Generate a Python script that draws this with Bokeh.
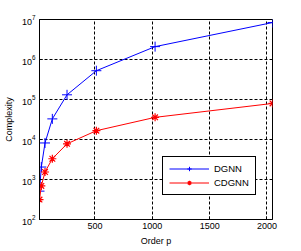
from bokeh.plotting import figure
from bokeh.models import FixedTicker, Legend, LegendItem, Range1d
from bokeh.embed import file_html
from bokeh.resources import INLINE

order_p = [16, 32, 64, 128, 256, 512, 1024, 2048]
dgnn = [512, 2048, 8192, 32768, 131072, 524288, 2097152, 8388608]
cdgnn = [315, 690, 1540, 3300, 7800, 16600, 35800, 79700]
x_ticks = [500, 1000, 1500, 2000]
y_ticks = [1e2, 1e3, 1e4, 1e5, 1e6, 1e7]
series_names = ["DGNN", "CDGNN"]
x_label = "Order p"
y_label = "Complexity"

FONT = "Liberation Sans"

p = figure(frame_width=233, frame_height=200,
           x_range=Range1d(16, 2048), y_range=Range1d(1e2, 1e7),
           y_axis_type="log", output_backend="svg", toolbar_location=None,
           min_border_left=0, min_border_right=26, min_border_top=19, min_border_bottom=0)

p.background_fill_color = "white"
p.border_fill_color = "white"
p.outline_line_color = "black"
p.outline_line_width = 1
p.outline_line_alpha = 1

p.xaxis.ticker = FixedTicker(ticks=x_ticks)
p.yaxis.ticker = FixedTicker(ticks=y_ticks)
for ax in (p.xaxis, p.yaxis):
    ax.axis_line_color = "black"
    ax.major_tick_out = 0
    ax.major_tick_in = 3
    ax.major_tick_line_color = "black"
    ax.minor_tick_line_color = None
    ax.major_label_text_font = FONT
    ax.major_label_text_font_size = "9px"
    ax.major_label_text_color = "black"
    ax.axis_label_text_font = FONT
    ax.axis_label_text_font_size = "9px"
    ax.axis_label_text_font_style = "normal"
    ax.axis_label_text_color = "black"

p.xaxis.major_label_standoff = 3
p.xaxis.axis_label_standoff = 4
p.yaxis.major_label_standoff = 4
p.yaxis.axis_label_standoff = 5

p.xaxis.axis_label = x_label
p.yaxis.axis_label = y_label

for g in (p.xgrid, p.ygrid):
    g.grid_line_color = "black"
    g.grid_line_dash = "3 2"
    g.grid_line_width = 1
    g.grid_line_alpha = 1
p.xgrid.ticker = FixedTicker(ticks=x_ticks)
p.ygrid.ticker = FixedTicker(ticks=y_ticks)

l1 = p.line(order_p, dgnn, line_color="blue", line_width=1)
m1 = p.scatter(order_p, dgnn, marker="cross", size=10, line_color="blue", line_width=1)
l2 = p.line(order_p, cdgnn, line_color="red", line_width=1)
m2 = p.scatter(order_p, cdgnn, marker="asterisk", size=8, line_color="red", line_width=1.2)

legend = Legend(items=[LegendItem(label=series_names[0], renderers=[l1, m1]),
                       LegendItem(label=series_names[1], renderers=[l2, m2])],
                location=(123, 24))
legend.label_text_font = FONT
legend.label_text_font_size = "9.5px"
legend.label_text_color = "black"
legend.border_line_color = "black"
legend.border_line_width = 1
legend.border_line_alpha = 1
legend.background_fill_color = "white"
legend.background_fill_alpha = 1
legend.padding = 6
legend.margin = 0
legend.spacing = 3
legend.glyph_width = 40
legend.glyph_height = 11
legend.label_height = 11
legend.label_standoff = 5
p.add_layout(legend, "center")

open("out.html", "w").write(file_html(p, INLINE))
